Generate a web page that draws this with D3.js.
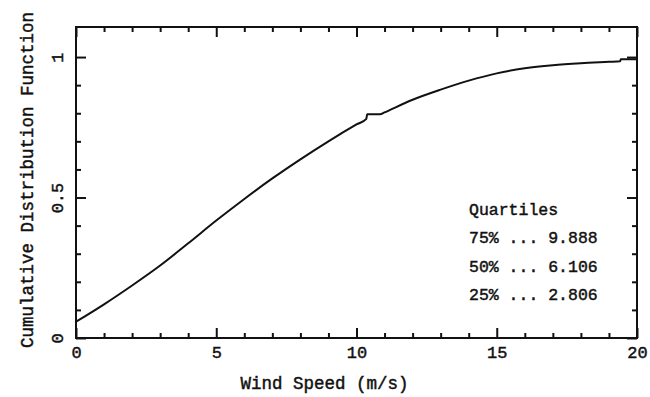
<!DOCTYPE html>
<html>
<head>
<meta charset="utf-8">
<script src="https://cdn.jsdelivr.net/npm/d3@7/dist/d3.min.js"></script>
<style>
  html, body { margin: 0; padding: 0; background: #fff; }
  svg text { font-family: "Liberation Mono", "DejaVu Sans Mono", monospace; fill: #111; stroke: #111; stroke-width: 0.45px; }
</style>
</head>
<body>
<svg id="chart" width="650" height="397"></svg>
<script>
// Empirical cumulative distribution of wind speed (m/s)
const windSpeed = [0, 1, 2, 3, 4, 5, 6, 7, 8, 9, 10, 10.35, 10.38, 10.84, 11, 12, 13, 14, 15, 16, 17, 18, 19, 19.4, 19.42, 20];
const cdfValue  = [0.058, 0.120, 0.187, 0.258, 0.337, 0.418, 0.495, 0.568, 0.636, 0.700, 0.760, 0.780, 0.796, 0.796, 0.803, 0.848, 0.884, 0.916, 0.942, 0.960, 0.971, 0.978, 0.983, 0.985, 0.992, 0.992];

const xMajorTicks = [0, 5, 10, 15, 20];
const xMinorTicks = d3.range(0, 21, 1).filter(v => v % 5 !== 0);
const yMajorTicks = [0, 0.5, 1];
const yMinorTicks = [0.1, 0.2, 0.3, 0.4, 0.6, 0.7, 0.8, 0.9];
const yTickLabels = ["0", "0.5", "1"];

const quartileTitle = "Quartiles";
const quartileNames = ["75%", "50%", "25%"];
const quartileValues = ["9.888", "6.106", "2.806"];

const svg = d3.select("#chart");
const frame = { left: 76, right: 637, top: 27, bottom: 338 };

const x = d3.scaleLinear().domain([0, 20]).range([frame.left, frame.right]);
const y = d3.scaleLinear().domain([0, 1.107]).range([frame.bottom, frame.top]);

const MAJOR = 10, MINOR = 5;

function tickLayer(axisFn, scale, values, size, transform, withLabels, labelFmt) {
  const ax = axisFn(scale).tickValues(values).tickSizeInner(-size).tickSizeOuter(0);
  if (withLabels) ax.tickFormat(labelFmt).tickPadding(0); else ax.tickFormat("");
  const g = svg.append("g").attr("transform", transform).call(ax);
  g.select(".domain").remove();
  g.selectAll(".tick line").attr("stroke", "#111").attr("stroke-width", 2);
  return g;
}

// bottom
const bottomMajor = tickLayer(d3.axisBottom, x, xMajorTicks, MAJOR, `translate(0,${frame.bottom})`, true, d => String(d));
bottomMajor.selectAll(".tick text")
  .attr("y", 20).attr("dy", 0)
  .style("font-size", "17px");
tickLayer(d3.axisBottom, x, xMinorTicks, MINOR, `translate(0,${frame.bottom})`, false);
// top
tickLayer(d3.axisTop, x, xMajorTicks, MAJOR, `translate(0,${frame.top})`, false);
tickLayer(d3.axisTop, x, xMinorTicks, MINOR, `translate(0,${frame.top})`, false);
// left
const leftMajor = tickLayer(d3.axisLeft, y, yMajorTicks, MAJOR, `translate(${frame.left},0)`, true, (d, i) => yTickLabels[i]);
leftMajor.selectAll(".tick text")
  .attr("x", null).attr("dy", null)
  .attr("transform", "translate(-13,0) rotate(-90)")
  .attr("text-anchor", "middle")
  .style("font-size", "17px");
tickLayer(d3.axisLeft, y, yMinorTicks, MINOR, `translate(${frame.left},0)`, false);
// right
tickLayer(d3.axisRight, y, yMajorTicks, MAJOR, `translate(${frame.right},0)`, false);
tickLayer(d3.axisRight, y, yMinorTicks, MINOR, `translate(${frame.right},0)`, false);

// frame
svg.append("rect")
  .attr("x", frame.left).attr("y", frame.top)
  .attr("width", frame.right - frame.left).attr("height", frame.bottom - frame.top)
  .attr("fill", "none").attr("stroke", "#111").attr("stroke-width", 2);

// CDF curve
const pts = windSpeed.map((v, i) => [v, cdfValue[i]]);
svg.append("path")
  .datum(pts)
  .attr("fill", "none")
  .attr("stroke", "#111")
  .attr("stroke-width", 2)
  .attr("d", d3.line().curve(d3.curveMonotoneX).x(d => x(d[0])).y(d => y(d[1])));

// axis titles
svg.append("text")
  .attr("x", (frame.left + frame.right) / 2 - 32).attr("y", 389)
  .attr("text-anchor", "middle")
  .style("font-size", "17.5px")
  .text("Wind Speed (m/s)");

svg.append("text")
  .attr("transform", `translate(33,180) rotate(-90)`)
  .attr("text-anchor", "middle")
  .style("font-size", "17.5px")
  .text("Cumulative Distribution Function");

// quartile annotation
const note = svg.append("g").attr("transform", "translate(469,0)");
note.append("text").attr("y", 215).style("font-size", "16.5px").text(quartileTitle);
quartileNames.forEach((q, i) => {
  note.append("text")
    .attr("y", 243 + i * 28.5)
    .style("font-size", "16.5px")
    .text(`${q} ... ${quartileValues[i]}`);
});
</script>
</body>
</html>
